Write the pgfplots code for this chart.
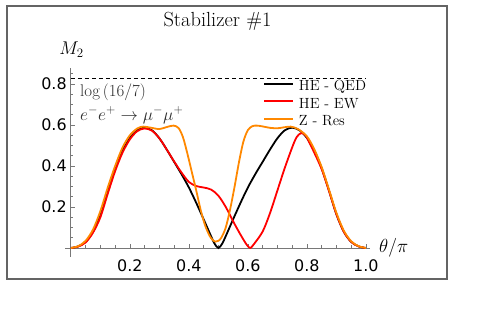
\documentclass[border=0pt]{standalone}
\usepackage{fix-cm}
\usepackage{fontspec}
\usepackage{pgfplots}
\pgfplotsset{compat=1.18}
\usepackage{pgfplotstable}
\newfontfamily\tickfont{DejaVu Sans}
\definecolor{zorange}{RGB}{255,136,0}
\definecolor{axgray}{RGB}{120,120,120}
\definecolor{framegray}{RGB}{100,100,100}

\pgfplotstableread{
x y
0 0
0.025 0.008
0.05 0.03
0.075 0.08
0.1 0.165
0.125 0.28
0.15 0.39
0.175 0.475
0.2 0.537
0.225 0.574
0.25 0.587
0.275 0.574
0.3 0.535
0.325 0.48
0.35 0.42
0.375 0.36
0.4 0.295
0.425 0.22
0.45 0.14
0.475 0.058
0.4875 0.02
0.5 0
0.5125 0.02
0.525 0.058
0.55 0.14
0.575 0.22
0.6 0.295
0.625 0.36
0.65 0.42
0.675 0.48
0.7 0.535
0.725 0.574
0.75 0.587
0.775 0.574
0.8 0.537
0.825 0.475
0.85 0.39
0.875 0.28
0.9 0.165
0.925 0.08
0.95 0.03
0.975 0.008
1 0
}\blk

\pgfplotstableread{
x y
0 0
0.025 0.007
0.05 0.027
0.075 0.075
0.1 0.15
0.125 0.265
0.15 0.375
0.175 0.465
0.2 0.53
0.225 0.57
0.25 0.583
0.275 0.572
0.3 0.535
0.325 0.48
0.35 0.422
0.375 0.368
0.4 0.322
0.425 0.302
0.45 0.295
0.475 0.285
0.5 0.255
0.525 0.2
0.55 0.13
0.575 0.065
0.595 0.018
0.6075 0
0.62 0.018
0.65 0.08
0.675 0.17
0.7 0.28
0.725 0.39
0.75 0.49
0.765 0.54
0.78 0.56
0.795 0.55
0.81 0.51
0.825 0.465
0.85 0.385
0.875 0.278
0.9 0.165
0.925 0.08
0.95 0.03
0.975 0.008
1 0
}\redd

\pgfplotstableread{
x y
0 0
0.025 0.009
0.05 0.035
0.075 0.09
0.1 0.18
0.125 0.295
0.15 0.40
0.175 0.49
0.2 0.55
0.225 0.583
0.245 0.592
0.27 0.587
0.3 0.58
0.325 0.59
0.348 0.597
0.365 0.585
0.38 0.54
0.395 0.46
0.41 0.37
0.425 0.28
0.44 0.185
0.455 0.11
0.47 0.06
0.48 0.04
0.49 0.031
0.5 0.035
0.51 0.05
0.525 0.1
0.54 0.19
0.555 0.3
0.57 0.42
0.585 0.52
0.6 0.575
0.615 0.594
0.63 0.597
0.65 0.593
0.675 0.586
0.7 0.584
0.72 0.588
0.745 0.592
0.77 0.58
0.8 0.545
0.825 0.482
0.85 0.395
0.875 0.285
0.9 0.172
0.925 0.085
0.95 0.033
0.975 0.009
1 0
}\orng

\begin{document}
\begin{tikzpicture}
\path[use as bounding box] (0,0) rectangle (484bp,333bp);
\draw[framegray, line width=1.3bp] (7bp,54bp) rectangle (447bp,327bp);
\begin{axis}[
  at={(65bp,76bp)}, anchor=south west,
  scale only axis, width=305bp, height=189bp,
  xmin=-0.02, xmax=1.014, ymin=-0.044, ymax=0.878,
  axis lines=middle,
  axis line style={axgray, line width=0.8bp, -},
  every inner x axis line/.append style={-},
  every inner y axis line/.append style={-},
  xtick={0.2,0.4,0.6,0.8,1.0}, ytick={0.2,0.4,0.6,0.8},
  minor xtick={0.05,0.1,0.15,0.25,0.3,0.35,0.45,0.5,0.55,0.65,0.7,0.75,0.85,0.9,0.95},
  minor ytick={0.05,0.1,0.15,0.25,0.3,0.35,0.45,0.5,0.55,0.65,0.7,0.75,0.85},
  tick align=inside, major tick length=4bp, minor tick length=2.5bp,
  every tick/.style={axgray, line width=0.6bp},
  tick label style={font=\tickfont\fontsize{16}{16}\selectfont, inner sep=0pt, black},
  /pgf/number format/assume math mode=true,
  xticklabel style={/pgf/number format/fixed, /pgf/number format/fixed zerofill, /pgf/number format/precision=1, yshift=-11bp},
  yticklabel style={/pgf/number format/fixed, /pgf/number format/fixed zerofill, /pgf/number format/precision=1, xshift=-4bp},
  clip=false,
  legend style={draw=none, fill=none, at={(0.649,0.9355)}, anchor=north west,
    font=\fontsize{14.8}{14.8}\selectfont, row sep=4bp, column sep=5bp,
    nodes={inner sep=0pt, text height=10.5bp, text depth=3bp}, inner sep=0pt},
  legend cell align=left,
  legend image code/.code={\draw[#1, line width=1.8bp] (0bp,3.5bp) -- (29bp,3.5bp);},
]
\addplot[black, dash pattern=on 4bp off 3bp, line width=1bp, forget plot] coordinates {(0,0.8267) (1,0.8267)};
\addplot[black, line width=1.8bp, smooth] table {\blk};
\addlegendentry{HE - QED}
\addplot[red, line width=1.8bp, smooth] table {\redd};
\addlegendentry{HE - EW}
\addplot[zorange, line width=1.8bp, smooth] table {\orng};
\addlegendentry{Z - Res}
\node[anchor=base west, font=\fontsize{17}{17}\selectfont, text=black!82, inner sep=0pt] at (axis cs:0.031,0.741) {$\log\,(16/7)$};
\node[anchor=base west, font=\fontsize{17.5}{17.5}\selectfont, text=black!82, inner sep=0pt] at (axis cs:0.031,0.624) {$e^{-}e^{+}\rightarrow\mu^{-}\mu^{+}$};
\end{axis}
\node[anchor=base, font=\fontsize{20.5}{20.5}\selectfont, inner sep=0pt] at (217.5bp,306.5bp) {Stabilizer \#1};
\node[anchor=base, font=\fontsize{18.5}{18.5}\selectfont, inner sep=0pt] at (71.5bp,278bp) {$M_2$};
\node[anchor=west, font=\fontsize{19}{19}\selectfont, inner sep=0pt] at (379bp,85bp) {$\theta/\pi$};
\end{tikzpicture}
\end{document}
